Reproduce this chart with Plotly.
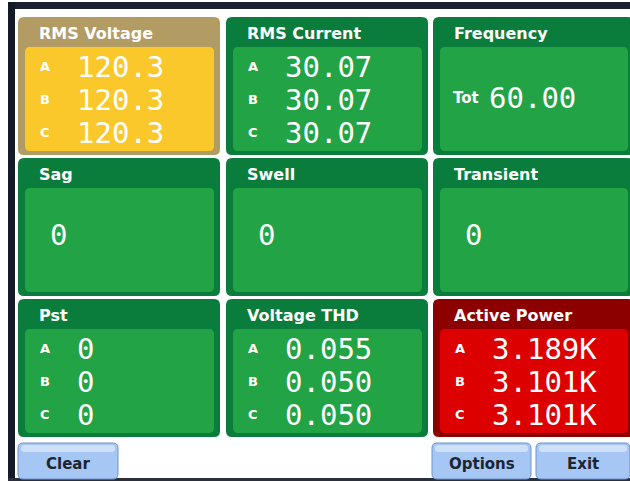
import plotly.graph_objects as go

# ---- data ----
titles = ["RMS Voltage", "RMS Current", "Frequency",
          "Sag", "Swell", "Transient",
          "Pst", "Voltage THD", "Active Power"]
phases = ["A", "B", "C"]
rms_voltage = ["120.3", "120.3", "120.3"]
rms_current = ["30.07", "30.07", "30.07"]
frequency = "60.00"
sag = "0"
swell = "0"
transient = "0"
pst = ["0", "0", "0"]
voltage_thd = ["0.055", "0.050", "0.050"]
active_power = ["3.189K", "3.101K", "3.101K"]
buttons = ["Clear", "Options", "Exit"]

panel_values = [rms_voltage, rms_current, frequency,
                sag, swell, transient,
                pst, voltage_thd, active_power]

# ---- layout constants ----
W, H = 630, 481
col_x0 = [18, 226, 433]
col_x1 = [220, 428, 634]
row_y0 = [17, 158, 299]
row_y1 = [155, 296, 437]

GREEN_HDR = "#0a7c3b"
GREEN_IN = "#22a346"
themes = {0: ("#b39c64", "#fbc82c"), 8: ("#8c0000", "#dc0000")}


def rrect(x0, y0, x1, y1, r):
    return (f"M {x0+r},{y0} L {x1-r},{y0} Q {x1},{y0} {x1},{y0+r} "
            f"L {x1},{y1-r} Q {x1},{y1} {x1-r},{y1} L {x0+r},{y1} "
            f"Q {x0},{y1} {x0},{y1-r} L {x0},{y0+r} Q {x0},{y0} {x0+r},{y0} Z")


shapes = []
ann = []

# frame
shapes.append(dict(type="rect", x0=0, y0=0, x1=W, y1=H, fillcolor="white", line_width=0, layer="below"))
shapes.append(dict(type="rect", x0=8, y0=2, x1=W, y1=9, fillcolor="#1b2130", line_width=0))
shapes.append(dict(type="rect", x0=8, y0=2, x1=15, y1=H, fillcolor="#141a26", line_width=0))
shapes.append(dict(type="rect", x0=8, y0=478, x1=W, y1=H, fillcolor="#2a2f3a", line_width=0))

TITLE_FONT = dict(family="DejaVu Sans", size=16, color="white")
PH_FONT = dict(family="DejaVu Sans", size=13, color="white")
VAL_FONT = dict(family="DejaVu Sans Mono", size=29, color="white")

for i, title in enumerate(titles):
    r, c = divmod(i, 3)
    x0, x1, y0, y1 = col_x0[c], col_x1[c], row_y0[r], row_y1[r]
    hdr, inner = themes.get(i, (GREEN_HDR, GREEN_IN))
    shapes.append(dict(type="path", path=rrect(x0, y0, x1, y1, 6), fillcolor=hdr, line_width=0))
    shapes.append(dict(type="path", path=rrect(x0 + 7, y0 + 30, x1 - 6, y1 - 4, 5), fillcolor=inner, line_width=0))
    ann.append(dict(x=x0 + 19, y=y0 + 16, text=f"<b>{title}</b>", font=TITLE_FONT,
                    xanchor="left", yanchor="middle", showarrow=False))
    vals = panel_values[i]
    if isinstance(vals, list):
        for k, (p, v) in enumerate(zip(phases, vals)):
            yy = y0 + 49 + k * 33
            ann.append(dict(x=x0 + 20, y=yy, text=f"<b>{p}</b>", font=PH_FONT,
                            xanchor="left", yanchor="middle", showarrow=False))
            ann.append(dict(x=x0 + 57, y=yy + 1, text=v, font=VAL_FONT,
                            xanchor="left", yanchor="middle", showarrow=False))
    else:
        yy = (y0 + 30 + y1 - 4) / 2 - 3
        if title == "Frequency":
            ann.append(dict(x=x0 + 18, y=yy + 2, text="<b>Tot</b>", font=dict(family="DejaVu Sans", size=15, color="white"),
                            xanchor="left", yanchor="middle", showarrow=False))
            ann.append(dict(x=x0 + 54, y=yy + 2, text=vals, font=VAL_FONT,
                            xanchor="left", yanchor="middle", showarrow=False))
        else:
            ann.append(dict(x=x0 + 30, y=yy - 2, text=vals, font=VAL_FONT,
                            xanchor="left", yanchor="middle", showarrow=False))

# junction dots
for xd in [223, 430]:
    for yd in [15, 157, 298, 438]:
        shapes.append(dict(type="circle", x0=xd - 4, x1=xd + 4, y0=yd - 4, y1=yd + 4,
                           fillcolor="white", line_width=0))

# buttons
btn_x = [(18, 118), (432, 531), (536, 630)]
for name, (bx0, bx1) in zip(buttons, btn_x):
    shapes.append(dict(type="path", path=rrect(bx0, 443, bx1, 479, 5), fillcolor="#a6c6f4",
                       line=dict(color="#7193cc", width=1)))
    shapes.append(dict(type="path", path=rrect(bx0 + 3, 445, bx1 - 3, 452, 3), fillcolor="#cfe0fb", line_width=0))
    ann.append(dict(x=(bx0 + bx1) / 2, y=464, text=f"<b>{name}</b>",
                    font=dict(family="DejaVu Sans", size=15, color="#1c2530"),
                    xanchor="center", yanchor="middle", showarrow=False))

fig = go.Figure()
fig.update_layout(
    width=W, height=H, margin=dict(l=0, r=0, t=0, b=0),
    paper_bgcolor="white", plot_bgcolor="white",
    xaxis=dict(range=[0, W], visible=False, fixedrange=True),
    yaxis=dict(range=[H, 0], visible=False, fixedrange=True),
    shapes=shapes, annotations=ann, showlegend=False,
)
fig.write_html("out.html", config=dict(displayModeBar=False),
               post_script="document.body.style.margin='0';document.body.style.overflow='hidden';")
